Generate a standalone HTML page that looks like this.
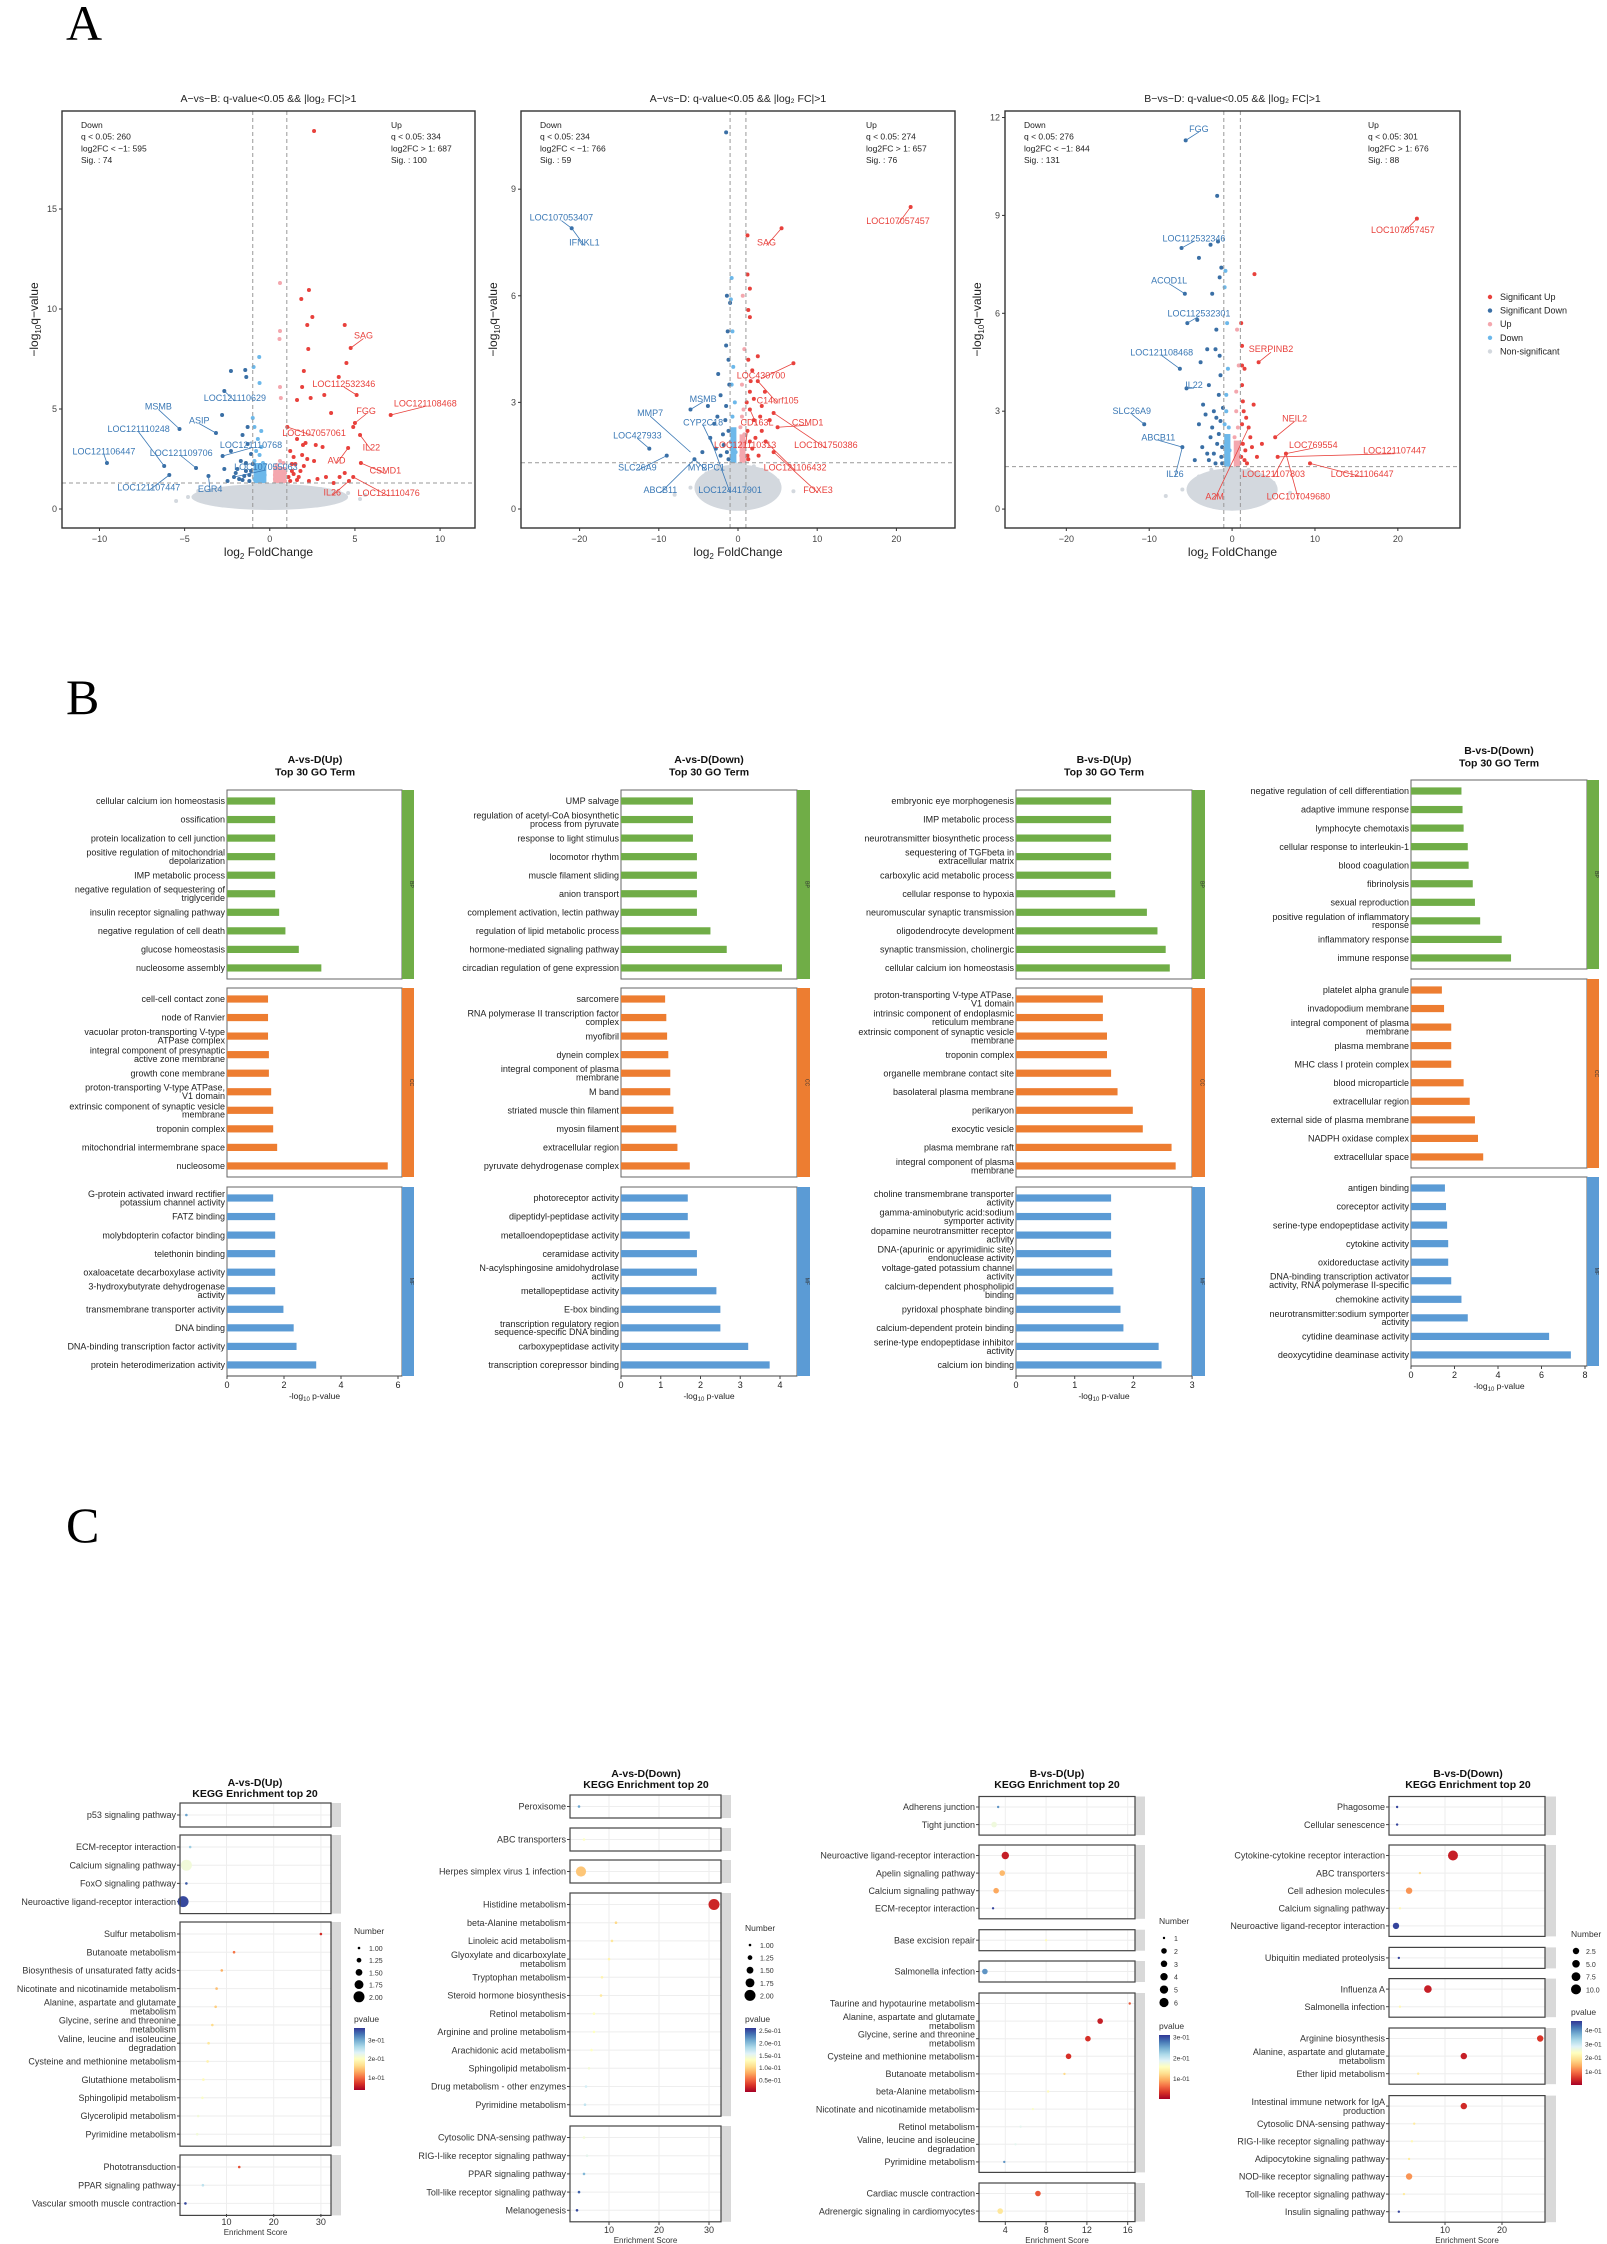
<!DOCTYPE html>
<html><head><meta charset="utf-8"><title>Figure</title>
<style>
html,body{margin:0;padding:0;background:#fff;}
body{width:1607px;height:2244px;position:relative;overflow:hidden;font-family:"Liberation Sans",sans-serif;}
.plab{position:absolute;font-family:"Liberation Serif",serif;font-size:50px;line-height:1;color:#000;}
svg{position:absolute;left:0;top:0;}
svg text{font-family:"Liberation Sans",sans-serif;}
</style></head>
<body>
<div class="plab" style="left:66px;top:-2px;">A</div>
<div class="plab" style="left:66px;top:672px;">B</div>
<div class="plab" style="left:66px;top:1500px;">C</div>
<svg id="fig" width="1607" height="2244" viewBox="0 0 1607 2244"></svg>
<script>
// ======== VOLCANO DATA ========
const v1SigUp=[[2.6,18.9],[2.3,10.95],[1.85,10.5],[2.5,9.6],[2.2,9.2],[4.4,9.2],[4.75,8.05],[2.26,8.0],[4.5,7.3],[2.0,6.9],[4.05,6.6],[1.9,6.1],[5.1,5.7],[3.2,5.7],[2.4,5.55],[1.6,5.45],[3.6,4.8],[7.1,4.7],[5.0,4.3],[4.9,4.1],[5.3,3.7],[4.6,3.05],[1.95,3.2],[2.7,3.2],[5.35,2.3],[4.4,1.8],[4.9,1.6],[4.65,1.4],[4.1,1.6],[3.3,1.6],[3.75,1.3],[2.2,2.5],[2.6,2.4],[1.8,1.9],[1.4,1.75],[1.2,2.9],[1.6,3.5],[2.1,3.3],[1.03,4.1],[1.3,2.25],[2.0,2.15],[3.1,3.1],[1.7,1.6],[2.3,1.4],[1.2,1.4],[1.5,2.25],[1.1,1.6],[1.3,1.9],[1.6,1.45],[2.8,1.5],[1.4,2.6],[1.9,2.7]];
const v1SigDown=[[-2.28,6.9],[-1.44,6.95],[-1.38,6.6],[-2.67,5.9],[-2.8,4.7],[-5.3,4.0],[-3.16,3.8],[-2.28,2.9],[-2.77,2.65],[-9.56,2.3],[-6.2,2.15],[-4.33,2.05],[-5.9,1.7],[-3.6,1.65],[-2.67,2.0],[-2.48,1.4],[-2.1,1.6],[-1.6,3.7],[-1.3,4.1],[-1.7,2.4],[-1.4,1.9],[-1.9,2.0],[-1.2,1.4],[-1.1,2.75],[-1.3,3.25],[-1.5,1.65],[-1.0,2.25],[-1.2,1.7],[-1.6,1.45],[-1.8,1.5],[-1.1,1.9],[-2.0,1.8],[-1.4,2.3]];
const v1LightUp=[[0.6,11.3],[0.6,8.9],[0.57,8.5],[0.6,6.1],[0.65,5.55],[0.4,1.4],[0.6,1.5],[0.8,1.6],[0.3,1.7],[0.5,1.9],[0.7,2.0],[0.9,1.8],[0.4,2.2],[0.6,2.4],[0.8,2.3],[0.5,1.45],[0.9,1.4],[0.3,1.5]];
const v1LightDown=[[-0.62,7.6],[-0.95,7.1],[-0.6,6.3],[-1.0,4.55],[-0.9,4.1],[-0.5,3.9],[-0.7,3.5],[-0.5,3.1],[-0.4,1.4],[-0.6,1.5],[-0.8,1.6],[-0.3,1.7],[-0.5,1.9],[-0.7,2.1],[-0.9,2.4],[-0.4,2.3],[-0.6,2.7],[-0.8,2.9],[-0.5,1.45],[-0.9,1.5]];
const v1Gray=[[-4.8,0.6],[-4.2,0.9],[-3.5,0.5],[-3.0,1.0],[-2.2,0.4],[3.0,1.0],[3.8,0.6],[4.6,0.8],[5.3,0.5],[2.5,0.3],[-5.5,0.4],[5.6,0.7]];
const v1Labels=[["SAG",5.5,8.67,4.75,8.05,1],["LOC112532346",4.35,6.25,5.1,5.7,1],["LOC121108468",9.13,5.28,7.1,4.7,1],["FGG",5.66,4.9,5.0,4.3,1],["LOC107057061",2.6,3.8,1.03,4.1,1],["IL22",5.97,3.08,5.3,3.7,1],["AVD",3.92,2.42,4.6,3.05,1],["CSMD1",6.79,1.92,5.35,2.3,1],["IL26",3.67,0.83,4.65,1.4,1],["LOC121110476",6.98,0.8,4.9,1.6,1],
["LOC121110629",-2.05,5.55,-2.67,5.9,0],["MSMB",-6.54,5.13,-5.3,4.0,0],["ASIP",-4.14,4.42,-3.16,3.8,0],["LOC121110248",-7.7,4.0,-6.2,2.15,0],["LOC121110768",-1.1,3.2,-2.77,2.65,0],["LOC121106447",-9.74,2.88,-9.56,2.3,0],["LOC121109706",-5.2,2.8,-4.33,2.05,0],["LOC107055063",-0.23,2.1,-2.1,1.6,0],["LOC121107447",-7.1,1.08,-5.9,1.7,0],["EGR4",-3.5,1.0,-3.6,1.65,0]];

const v2SigUp=[[21.8,8.5],[5.5,7.9],[1.2,7.7],[1.2,6.6],[1.5,6.2],[1.3,5.6],[1.5,5.4],[7.0,4.1],[2.5,4.3],[1.3,4.2],[1.8,3.9],[2.5,3.6],[1.5,3.3],[2.0,3.1],[3.0,2.9],[1.5,2.8],[2.8,2.6],[4.0,2.5],[5.0,2.3],[1.2,2.2],[2.2,2.0],[3.5,1.9],[1.8,1.7],[2.6,1.5],[1.3,1.4],[4.5,1.6],[3.0,2.2],[1.5,1.9],[1.2,1.5],[2.0,2.5],[1.6,3.6],[3.4,3.3],[4.5,2.7],[1.1,3.0]];
const v2SigDown=[[-1.5,10.6],[-21.0,7.9],[-1.4,6.0],[-1.0,5.8],[-1.3,5.0],[-1.5,4.6],[-1.2,4.2],[-2.5,3.8],[-6.0,2.8],[-2.2,3.2],[-1.5,2.9],[-3.0,2.4],[-11.2,1.7],[-3.5,2.0],[-1.8,1.8],[-9.0,1.5],[-4.5,1.6],[-2.2,1.5],[-1.2,2.2],[-5.5,1.4],[-2.8,1.7],[-1.6,2.5],[-1.2,1.4],[-1.9,2.1],[-3.8,2.9],[-1.1,3.5],[-2.6,2.6],[-1.4,1.6]];
const v2LightUp=[[0.6,6.0],[0.8,4.5],[0.5,3.5],[0.7,2.8],[0.4,1.5],[0.6,1.8],[0.8,2.1],[0.3,2.3],[0.9,1.4],[0.5,2.6]];
const v2LightDown=[[-0.8,6.5],[-0.9,5.9],[-0.7,5.0],[-0.6,4.0],[-0.8,3.5],[-0.4,3.0],[-0.7,2.6],[-0.5,2.2],[-0.9,1.9],[-0.3,1.6],[-0.6,1.4],[-0.8,1.7],[-0.5,1.8]];
const v2Gray=[[-6,0.6],[-4,1.0],[-8,0.4],[5,0.8],[7,0.5],[3,1.1],[-2.5,1.2],[2,1.2]];
const v2Labels=[["LOC107053407",-22.3,8.2,-21.0,7.9,0],["IFNKL1",-19.4,7.5,-21.0,7.9,0],["LOC107057457",20.2,8.1,21.8,8.5,1],["SAG",3.6,7.5,5.5,7.9,1],["LOC430700",2.9,3.75,7.0,4.1,1],["C14orf105",5.0,3.06,2.5,3.6,1],["MSMB",-4.4,3.1,-6.0,2.8,0],["MMP7",-11.1,2.7,-6.0,1.6,0],["CYP2C18",-4.4,2.44,-3.0,1.7,0],["CD163L",2.4,2.44,1.5,2.8,1],["CSMD1",8.8,2.44,5.0,2.3,1],["LOC427933",-12.7,2.07,-11.2,1.7,0],["LOC121110313",0.9,1.8,1.2,2.2,1],["LOC101750386",11.1,1.8,4.5,2.7,1],["SLC26A9",-12.7,1.17,-9.0,1.5,0],["MYBPC1",-4.0,1.17,-5.5,1.4,0],["LOC121106432",7.2,1.17,3.5,1.9,1],["ABCB11",-9.8,0.54,-5.5,1.4,0],["LOC124417901",-1.0,0.54,-3.5,2.0,0],["FOXE3",10.1,0.54,4.5,1.6,1]];

const v3SigUp=[[22.3,8.9],[2.7,7.2],[1.1,5.7],[1.2,5.0],[3.2,4.5],[1.5,4.3],[1.2,3.8],[1.3,3.3],[5.2,2.2],[1.7,2.8],[2.0,2.5],[6.5,1.7],[5.5,1.6],[9.4,1.4],[1.3,2.0],[2.4,1.9],[1.5,1.5],[3.0,1.6],[1.8,1.4],[1.2,2.6],[2.2,2.2],[1.4,3.0],[2.6,3.2],[1.1,1.6],[1.6,1.8],[3.6,2.0],[1.2,4.4]];
const v3SigDown=[[-5.6,11.3],[-1.8,9.6],[-6.1,8.0],[-2.6,8.1],[-1.7,8.2],[-4.0,7.7],[-1.3,7.4],[-1.5,7.1],[-5.7,6.6],[-2.4,6.6],[-5.4,5.7],[-4.2,5.8],[-1.9,5.5],[-3.0,4.9],[-2.0,4.9],[-1.5,4.7],[-6.3,4.3],[-3.8,4.5],[-5.5,3.7],[-2.8,3.8],[-3.5,3.2],[-10.6,2.6],[-2.2,3.0],[-1.6,3.5],[-4.0,2.6],[-6.0,1.9],[-2.6,2.2],[-3.0,1.7],[-1.8,2.0],[-1.3,1.6],[-4.5,1.5],[-2.0,1.4],[-1.4,2.7],[-2.4,2.5],[-3.2,2.9],[-1.2,1.9],[-1.6,2.3],[-2.2,1.7],[-1.1,3.1],[-1.4,4.1],[-3.6,1.9],[-2.8,1.5],[-1.9,2.8],[-1.2,1.4]];
const v3LightUp=[[0.6,5.5],[0.8,4.4],[0.5,3.0],[0.7,2.5],[0.4,1.5],[0.6,1.8],[0.8,2.0],[0.3,2.2],[0.9,1.4],[0.5,3.6],[0.7,1.6]];
const v3LightDown=[[-0.8,7.3],[-0.9,6.8],[-0.6,5.7],[-0.5,4.3],[-0.7,3.5],[-0.4,2.5],[-0.8,2.0],[-0.6,1.6],[-0.9,1.4],[-0.3,1.8],[-0.7,3.0],[-0.5,2.2],[-0.9,2.6]];
const v3Gray=[[-6,0.6],[-4,1.0],[-8,0.4],[5,0.8],[7,0.5],[3,1.1],[-2.5,1.2],[2,1.2]];
const v3Labels=[["FGG",-4.0,11.65,-5.6,11.3,0],["LOC112532346",-4.6,8.3,-6.1,8.0,0],["ACOD1L",-7.6,7.0,-5.7,6.6,0],["LOC112532301",-4.0,6.0,-5.4,5.7,0],["LOC121108468",-8.5,4.8,-6.3,4.3,0],["IL22",-4.6,3.8,-5.5,3.7,0],["SLC26A9",-12.1,3.0,-10.6,2.6,0],["ABCB11",-8.9,2.2,-6.0,1.9,0],["IL26",-6.9,1.08,-6.0,1.9,0],
["LOC107057457",20.6,8.55,22.3,8.9,1],["SERPINB2",4.7,4.9,3.2,4.5,1],["NEIL2",7.55,2.78,5.2,2.2,1],["LOC769554",9.8,1.96,6.5,1.7,1],["LOC121107447",19.6,1.79,5.5,1.6,1],["LOC121106447",15.7,1.08,9.4,1.4,1],["LOC121107803",5.0,1.08,6.5,1.7,1],["A2M",-2.1,0.39,2.0,2.5,1],["LOC107049680",8.0,0.39,6.5,1.7,1]];

// ======== GO DATA ========
const go1BP=["cellular calcium ion homeostasis","ossification","protein localization to cell junction","positive regulation of mitochondrial\ndepolarization","IMP metabolic process","negative regulation of sequestering of\ntriglyceride","insulin receptor signaling pathway","negative regulation of cell death","glucose homeostasis","nucleosome assembly"];
const go1BPv=[1.69,1.69,1.69,1.69,1.69,1.69,1.83,2.05,2.52,3.31];
const go1CC=["cell-cell contact zone","node of Ranvier","vacuolar proton-transporting V-type\nATPase complex","integral component of presynaptic\nactive zone membrane","growth cone membrane","proton-transporting V-type ATPase,\nV1 domain","extrinsic component of synaptic vesicle\nmembrane","troponin complex","mitochondrial intermembrane space","nucleosome"];
const go1CCv=[1.44,1.44,1.44,1.47,1.47,1.55,1.62,1.62,1.76,5.64];
const go1MF=["G-protein activated inward rectifier\npotassium channel activity","FATZ binding","molybdopterin cofactor binding","telethonin binding","oxaloacetate decarboxylase activity","3-hydroxybutyrate dehydrogenase\nactivity","transmembrane transporter activity","DNA binding","DNA-binding transcription factor activity","protein heterodimerization activity"];
const go1MFv=[1.62,1.69,1.69,1.69,1.69,1.69,1.98,2.34,2.44,3.13];
const go2BP=["UMP salvage","regulation of acetyl-CoA biosynthetic\nprocess from pyruvate","response to light stimulus","locomotor rhythm","muscle filament sliding","anion transport","complement activation, lectin pathway","regulation of lipid metabolic process","hormone-mediated signaling pathway","circadian regulation of gene expression"];
const go2BPv=[1.81,1.81,1.81,1.91,1.91,1.91,1.91,2.25,2.66,4.05];
const go2CC=["sarcomere","RNA polymerase II transcription factor\ncomplex","myofibril","dynein complex","integral component of plasma\nmembrane","M band","striated muscle thin filament","myosin filament","extracellular region","pyruvate dehydrogenase complex"];
const go2CCv=[1.11,1.14,1.16,1.19,1.24,1.24,1.32,1.39,1.42,1.73];
const go2MF=["photoreceptor activity","dipeptidyl-peptidase activity","metalloendopeptidase activity","ceramidase activity","N-acylsphingosine amidohydrolase\nactivity","metallopeptidase activity","E-box binding","transcription regulatory region\nsequence-specific DNA binding","carboxypeptidase activity","transcription corepressor binding"];
const go2MFv=[1.68,1.68,1.73,1.91,1.91,2.4,2.5,2.5,3.2,3.74];
const go3BP=["embryonic eye morphogenesis","IMP metabolic process","neurotransmitter biosynthetic process","sequestering of TGFbeta in\nextracellular matrix","carboxylic acid metabolic process","cellular response to hypoxia","neuromuscular synaptic transmission","oligodendrocyte development","synaptic transmission, cholinergic","cellular calcium ion homeostasis"];
const go3BPv=[1.62,1.62,1.62,1.62,1.62,1.69,2.23,2.41,2.55,2.62];
const go3CC=["proton-transporting V-type ATPase,\nV1 domain","intrinsic component of endoplasmic\nreticulum membrane","extrinsic component of synaptic vesicle\nmembrane","troponin complex","organelle membrane contact site","basolateral plasma membrane","perikaryon","exocytic vesicle","plasma membrane raft","integral component of plasma\nmembrane"];
const go3CCv=[1.48,1.48,1.55,1.55,1.62,1.73,1.99,2.16,2.65,2.72];
const go3MF=["choline transmembrane transporter\nactivity","gamma-aminobutyric acid:sodium\nsymporter activity","dopamine neurotransmitter receptor\nactivity","DNA-(apurinic or apyrimidinic site)\nendonuclease activity","voltage-gated potassium channel\nactivity","calcium-dependent phospholipid\nbinding","pyridoxal phosphate binding","calcium-dependent protein binding","serine-type endopeptidase inhibitor\nactivity","calcium ion binding"];
const go3MFv=[1.62,1.62,1.62,1.62,1.64,1.66,1.78,1.83,2.43,2.48];
const go4BP=["negative regulation of cell differentiation","adaptive immune response","lymphocyte chemotaxis","cellular response to interleukin-1","blood coagulation","fibrinolysis","sexual reproduction","positive regulation of inflammatory\nresponse","inflammatory response","immune response"];
const go4BPv=[2.32,2.37,2.42,2.61,2.65,2.84,2.94,3.18,4.17,4.6];
const go4CC=["platelet alpha granule","invadopodium membrane","integral component of plasma\nmembrane","plasma membrane","MHC class I protein complex","blood microparticle","extracellular region","external side of plasma membrane","NADPH oxidase complex","extracellular space"];
const go4CCv=[1.42,1.52,1.85,1.85,1.85,2.42,2.7,2.94,3.08,3.32];
const go4MF=["antigen binding","coreceptor activity","serine-type endopeptidase activity","cytokine activity","oxidoreductase activity","DNA-binding transcription activator\nactivity, RNA polymerase II-specific","chemokine activity","neurotransmitter:sodium symporter\nactivity","cytidine deaminase activity","deoxycytidine deaminase activity"];
const go4MFv=[1.56,1.61,1.66,1.71,1.71,1.85,2.32,2.61,6.35,7.35];
const go1Ticks=[0,2,4,6], go2Ticks=[0,1,2,3,4], go3Ticks=[0,1,2,3], go4Ticks=[0,2,4,6,8];

// ======== KEGG DATA ========
const k1Labels=["p53 signaling pathway","ECM-receptor interaction","Calcium signaling pathway","FoxO signaling pathway","Neuroactive ligand-receptor interaction","Sulfur metabolism","Butanoate metabolism","Biosynthesis of unsaturated fatty acids","Nicotinate and nicotinamide metabolism","Alanine, aspartate and glutamate\nmetabolism","Glycine, serine and threonine\nmetabolism","Valine, leucine and isoleucine\ndegradation","Cysteine and methionine metabolism","Glutathione metabolism","Sphingolipid metabolism","Glycerolipid metabolism","Pyrimidine metabolism","Phototransduction","PPAR signaling pathway","Vascular smooth muscle contraction"];
const k1Groups=[1,4,12,3];
const k1Enrich=[1.5,2.3,1.5,1.5,0.8,30,11.6,9.0,7.9,7.7,7.0,6.2,6.0,5.1,4.9,4.0,3.8,12.7,5,1.3];
const k1Number=[1,1,2,1,2,1,1,1,1,1,1,1,1,1,1,1,1,1,1,1];
const k1P=[0.3,0.27,0.21,0.34,0.35,0.06,0.1,0.13,0.14,0.15,0.16,0.17,0.18,0.19,0.2,0.21,0.21,0.08,0.25,0.35];
const k1Ticks=[10,20,30], k1NumLeg=[1.00,1.25,1.50,1.75,2.00], k1PLeg=[0.3,0.2,0.1];
const k2Labels=["Peroxisome","ABC transporters","Herpes simplex virus 1 infection","Histidine metabolism","beta-Alanine metabolism","Linoleic acid metabolism","Glyoxylate and dicarboxylate\nmetabolism","Tryptophan metabolism","Steroid hormone biosynthesis","Retinol metabolism","Arginine and proline metabolism","Arachidonic acid metabolism","Sphingolipid metabolism","Drug metabolism - other enzymes","Pyrimidine metabolism","Cytosolic DNA-sensing pathway","RIG-I-like receptor signaling pathway","PPAR signaling pathway","Toll-like receptor signaling pathway","Melanogenesis"];
const k2Groups=[1,1,1,12,5];
const k2Enrich=[4,5,4.4,31,11.4,10.6,10,8.6,8.4,7,7,6.5,6,5.4,5.2,5,5.6,5,4,3.6];
const k2Number=[1,1,1.9,2,1,1,1,1,1,1,1,1,1,1,1,1,1,1,1,1];
const k2P=[0.21,0.13,0.09,0.02,0.1,0.11,0.12,0.12,0.11,0.13,0.13,0.13,0.14,0.16,0.17,0.14,0.15,0.2,0.24,0.25];
const k2Ticks=[10,20,30], k2NumLeg=[1.00,1.25,1.50,1.75,2.00], k2PLeg=[0.25,0.20,0.15,0.10,0.05];
const k3Labels=["Adherens junction","Tight junction","Neuroactive ligand-receptor interaction","Apelin signaling pathway","Calcium signaling pathway","ECM-receptor interaction","Base excision repair","Salmonella infection","Taurine and hypotaurine metabolism","Alanine, aspartate and glutamate\nmetabolism","Glycine, serine and threonine\nmetabolism","Cysteine and methionine metabolism","Butanoate metabolism","beta-Alanine metabolism","Nicotinate and nicotinamide metabolism","Retinol metabolism","Valine, leucine and isoleucine\ndegradation","Pyrimidine metabolism","Cardiac muscle contraction","Adrenergic signaling in cardiomyocytes"];
const k3Groups=[2,4,1,1,10,2];
const k3Enrich=[3.3,2.9,4,3.7,3.1,2.8,8,2,16.2,13.3,12.1,10.2,9.8,8.2,6.7,5.5,5,3.9,7.2,3.5];
const k3Number=[1,2,4,2,2,1,1,2,1,2,2,2,1,1,1,1,1,1,2,2];
const k3P=[0.26,0.17,0.02,0.1,0.09,0.3,0.15,0.26,0.05,0.02,0.03,0.03,0.12,0.15,0.16,0.18,0.18,0.26,0.05,0.13];
const k3Ticks=[4,8,12,16], k3NumLeg=[1,2,3,4,5,6], k3PLeg=[0.3,0.2,0.1];
const k4Labels=["Phagosome","Cellular senescence","Cytokine-cytokine receptor interaction","ABC transporters","Cell adhesion molecules","Calcium signaling pathway","Neuroactive ligand-receptor interaction","Ubiquitin mediated proteolysis","Influenza A","Salmonella infection","Arginine biosynthesis","Alanine, aspartate and glutamate\nmetabolism","Ether lipid metabolism","Intestinal immune network for IgA\nproduction","Cytosolic DNA-sensing pathway","RIG-I-like receptor signaling pathway","Adipocytokine signaling pathway","NOD-like receptor signaling pathway","Toll-like receptor signaling pathway","Insulin signaling pathway"];
const k4Groups=[2,5,1,2,3,7];
const k4Enrich=[1.6,1.6,11.4,5.6,3.7,2.1,1.4,1.9,7,2.1,26.7,13.3,5.3,13.3,4.6,4.2,3.7,3.7,2.8,1.9];
const k4Number=[1,1,10,1,2.5,1,2.5,1,5,1,2.5,2.5,1,2.5,1,1,1,2.5,1,1];
const k4P=[0.45,0.45,0.03,0.18,0.12,0.22,0.45,0.45,0.03,0.22,0.05,0.03,0.2,0.04,0.2,0.22,0.2,0.12,0.2,0.45];
const k4Ticks=[10,20], k4NumLeg=[2.5,5.0,7.5,10.0], k4PLeg=[0.4,0.3,0.2,0.1];

// ======== HELPERS ========
const NS='http://www.w3.org/2000/svg';
const svg=document.getElementById('fig');
function mk(tag,attrs,parent){const e=document.createElementNS(NS,tag);for(const k in attrs)e.setAttribute(k,attrs[k]);(parent||svg).appendChild(e);return e;}
function tx(s,attrs,parent){const e=mk('text',attrs,parent);e.textContent=s;return e;}
function multi(s,x,y,size,anchor,lh,parent,fill){
  const lines=s.split('\n');const t=mk('text',{x:x,'font-size':size,'text-anchor':anchor,fill:fill||'#222'},parent);
  const y0=y-(lines.length-1)*lh/2+size*0.35;
  lines.forEach((l,i)=>{const ts=mk('tspan',{x:x,y:y0+i*lh},t);ts.textContent=l;});
  return t;
}
const PAL=['#a50026','#d73027','#f46d43','#fdae61','#fee090','#ffffbf','#e0f3f8','#abd9e9','#74add1','#4575b4','#313695'];
function hex(h){return[parseInt(h.slice(1,3),16),parseInt(h.slice(3,5),16),parseInt(h.slice(5,7),16)];}
function cmap(t){t=Math.max(0,Math.min(1,t));const f=t*(PAL.length-1);const i=Math.min(Math.floor(f),PAL.length-2);const r=f-i;const a=hex(PAL[i]),b=hex(PAL[i+1]);return 'rgb('+a.map((v,k)=>Math.round(v+(b[k]-v)*r)).join(',')+')';}

// ======== VOLCANO ========
const COL={su:'#e8413c',sd:'#3a6fa5',lu:'#f4a7ae',ld:'#6cb8ea',ns:'#d3d8de'};
function volcano(c){
  const g=mk('g',{});
  
  
  const sx=v=>c.x0+(v-c.xmin)/(c.xmax-c.xmin)*(c.x1-c.x0);
  const sy=v=>c.y1-(v-c.ymin)/(c.ymax-c.ymin)*(c.y1-c.y0);
  const title=tx(c.title,{x:(c.x0+c.x1)/2,y:102,'font-size':10.5,'text-anchor':'middle',fill:'#222'},g);
  
  
  const cloud=mk('ellipse',{cx:sx(0),cy:sy(0.6),rx:Math.abs(sx(c.cloud)-sx(0)),ry:Math.abs(sy(0.65)-sy(0)),fill:COL.ns},g);
  
  
  const spike=mk('path',{d:`M${sx(-0.9)} ${sy(1.3)} L${sx(0.9)} ${sy(1.3)} L${sx(1.2)} ${sy(0.2)} L${sx(-1.2)} ${sy(0.2)} Z`,fill:COL.ns},g);
  
  
  const bandU=mk('rect',{x:sx(0.2),y:sy(2.1),width:sx(0.95)-sx(0.2),height:sy(1.3)-sy(2.1),fill:COL.lu},g);
  
  
  const bandD=mk('rect',{x:sx(-0.95),y:sy(2.3),width:sx(-0.2)-sx(-0.95),height:sy(1.3)-sy(2.3),fill:COL.ld},g);
  
  
  const series=[[c.gray,COL.ns,'non-significant-point'],[c.lu,COL.lu,'up-point'],[c.ld,COL.ld,'down-point'],[c.su,COL.su,'significant-up-point'],[c.sd,COL.sd,'significant-down-point']];
  series.forEach(s=>{s[0].forEach(p=>{
    const d=mk('circle',{cx:sx(p[0]),cy:sy(p[1]),r:2,fill:s[1]},g);
    
    
  });});
  [[-1],[1]].forEach(v=>{const l=mk('line',{x1:sx(v[0]),x2:sx(v[0]),y1:c.y0,y2:c.y1,stroke:'#999','stroke-dasharray':'4 3','stroke-width':1},g);
    
    });
  const hl=mk('line',{x1:c.x0,x2:c.x1,y1:sy(1.3),y2:sy(1.3),stroke:'#999','stroke-dasharray':'4 3','stroke-width':1},g);
  
  
  c.labels.forEach(L=>{
    const col=L[5]?'#e8413c':'#3a78b5';
    const ln=mk('line',{x1:sx(L[1]),y1:sy(L[2])+3,x2:sx(L[3]),y2:sy(L[4]),stroke:col,'stroke-width':0.8},g);
    
    
    const t=tx(L[0],{x:sx(L[1]),y:sy(L[2])+3,'font-size':9,'text-anchor':'middle',fill:col},g);
    
    
  });
  const fr=mk('rect',{x:c.x0,y:c.y0,width:c.x1-c.x0,height:c.y1-c.y0,fill:'none',stroke:'#333','stroke-width':1.4},g);
  
  
  ['Down','q < 0.05: '+c.cnt[0],'log2FC < −1: '+c.cnt[1],'Sig. : '+c.cnt[2]].forEach((s,i)=>{
    const t=tx(s,{x:c.x0+19,y:128+i*11.7,'font-size':8.5,fill:'#222'},g);
    
    });
  ['Up','q < 0.05: '+c.cnt[3],'log2FC > 1: '+c.cnt[4],'Sig. : '+c.cnt[5]].forEach((s,i)=>{
    const t=tx(s,{x:c.upx,y:128+i*11.7,'font-size':8.5,fill:'#222'},g);
    
    });
  c.xt.forEach(v=>{mk('line',{x1:sx(v),x2:sx(v),y1:c.y1,y2:c.y1+3,stroke:'#333'},g);
    const t=tx(String(v).replace('-','−'),{x:sx(v),y:c.y1+14,'font-size':9,'text-anchor':'middle',fill:'#444'},g);
    
    });
  c.yt.forEach(v=>{mk('line',{x1:c.x0-3,x2:c.x0,y1:sy(v),y2:sy(v),stroke:'#333'},g);
    const t=tx(String(v),{x:c.x0-5,y:sy(v)+3,'font-size':9,'text-anchor':'end',fill:'#444'},g);
    
    });
  const xl=mk('text',{x:(c.x0+c.x1)/2,y:c.y1+28,'font-size':12,'text-anchor':'middle',fill:'#222'},g);
  xl.innerHTML='log<tspan font-size="8" dy="3">2</tspan><tspan dy="-3"> FoldChange</tspan>';
  
  
  const yl=mk('text',{x:0,y:0,'font-size':12,'text-anchor':'middle',fill:'#222',transform:`translate(${c.x0-24},${(c.y0+c.y1)/2}) rotate(-90)`},g);
  yl.innerHTML='−log<tspan font-size="8" dy="3">10</tspan><tspan dy="-3">q−value</tspan>';
  
  
}
volcano({name:'volcano-a-vs-b',title:'A−vs−B: q-value<0.05 && |log₂ FC|>1',x0:62,x1:475,y0:111,y1:528,xmin:-12.2,xmax:12.05,ymin:-0.95,ymax:19.9,xt:[-10,-5,0,5,10],yt:[0,5,10,15],su:v1SigUp,sd:v1SigDown,lu:v1LightUp,ld:v1LightDown,gray:v1Gray,labels:v1Labels,cnt:[260,595,74,334,687,100],upx:391,cloud:4.6});
volcano({name:'volcano-a-vs-d',title:'A−vs−D: q-value<0.05 && |log₂ FC|>1',x0:521,x1:955,y0:111,y1:528,xmin:-27.4,xmax:27.4,ymin:-0.535,ymax:11.2,xt:[-20,-10,0,10,20],yt:[0,3,6,9],su:v2SigUp,sd:v2SigDown,lu:v2LightUp,ld:v2LightDown,gray:v2Gray,labels:v2Labels,cnt:[234,766,59,274,657,76],upx:866,cloud:5.5});
volcano({name:'volcano-b-vs-d',title:'B−vs−D: q-value<0.05 && |log₂ FC|>1',x0:1005,x1:1460,y0:111,y1:528,xmin:-27.4,xmax:27.5,ymin:-0.58,ymax:12.2,xt:[-20,-10,0,10,20],yt:[0,3,6,9,12],su:v3SigUp,sd:v3SigDown,lu:v3LightUp,ld:v3LightDown,gray:v3Gray,labels:v3Labels,cnt:[276,844,131,301,676,88],upx:1368,cloud:5.5});
const legItems=[['Significant Up',COL.su],['Significant Down',COL.sd],['Up',COL.lu],['Down',COL.ld],['Non-significant',COL.ns]];
legItems.forEach((it,i)=>{
  const d=mk('circle',{cx:1490,cy:297+i*13.6,r:2.2,fill:it[1]});
  
  
  const t=tx(it[0],{x:1500,y:300+i*13.6,'font-size':9,fill:'#222'});
  
  
});

// ======== GO BAR CHARTS ========
const GOC={BP:'#70ad47',CC:'#ed7d31',MF:'#5b9bd5'};
function goChart(c){
  const g=mk('g',{});
  
  
  const sx=v=>c.x0+v*c.ppu;
  c.title.forEach((s,i)=>{const t=tx(s,{x:c.tx,y:c.ty+i*12.5,'font-size':10.5,'font-weight':'bold','text-anchor':'middle',fill:'#111'},g);
    
    });
  c.groups.forEach((gr,gi)=>{
    const top=c.tops[gi],bot=top+189;
    const box=mk('rect',{x:c.x0,y:top,width:c.boxR-c.x0,height:bot-top,fill:'#fff',stroke:'#666','stroke-width':1},g);
    
    
    const st=mk('rect',{x:c.boxR,y:top,width:c.stripR-c.boxR,height:bot-top,fill:GOC[gr.tag]},g);
    
    
    const stt=tx(gr.tag,{x:0,y:0,'font-size':5,'text-anchor':'middle',fill:'#333',transform:`translate(${(c.boxR+c.stripR)/2+2},${(top+bot)/2}) rotate(90)`},g);
    
    
    gr.labels.forEach((lab,i)=>{
      const y=top+11+i*18.55;
      const b=mk('rect',{x:c.x0,y:y-3.6,width:sx(gr.vals[i])-c.x0,height:7.2,fill:GOC[gr.tag]},g);
      
      
      const t=multi(lab,c.x0-2,y,9,'end',8.4,g);
      
      
    });
  });
  const axY=c.tops[2]+189;
  mk('line',{x1:c.x0,x2:c.boxR,y1:axY,y2:axY,stroke:'#444'},g);
  c.ticks.forEach(v=>{mk('line',{x1:sx(v),x2:sx(v),y1:axY,y2:axY+3,stroke:'#444'},g);
    const t=tx(String(v),{x:sx(v),y:axY+12,'font-size':9,'text-anchor':'middle',fill:'#222'},g);
    
    });
  const xl=mk('text',{x:(c.x0+c.boxR)/2,y:axY+23,'font-size':8.5,'text-anchor':'middle',fill:'#222'},g);
  xl.innerHTML='-log<tspan font-size="6" dy="2">10</tspan><tspan dy="-2"> p-value</tspan>';
  
  
}
goChart({name:'go-chart-a-vs-d-up',x0:227,ppu:28.5,boxR:402,stripR:414,tops:[790,988,1187],tx:315,ty:763,title:['A-vs-D(Up)','Top 30 GO Term'],ticks:go1Ticks,
  groups:[{tag:'BP',labels:go1BP,vals:go1BPv},{tag:'CC',labels:go1CC,vals:go1CCv},{tag:'MF',labels:go1MF,vals:go1MFv}]});
goChart({name:'go-chart-a-vs-d-down',x0:621,ppu:39.75,boxR:797,stripR:810,tops:[790,988,1187],tx:709,ty:763,title:['A-vs-D(Down)','Top 30 GO Term'],ticks:go2Ticks,
  groups:[{tag:'BP',labels:go2BP,vals:go2BPv},{tag:'CC',labels:go2CC,vals:go2CCv},{tag:'MF',labels:go2MF,vals:go2MFv}]});
goChart({name:'go-chart-b-vs-d-up',x0:1016,ppu:58.7,boxR:1192,stripR:1205,tops:[790,988,1187],tx:1104,ty:763,title:['B-vs-D(Up)','Top 30 GO Term'],ticks:go3Ticks,
  groups:[{tag:'BP',labels:go3BP,vals:go3BPv},{tag:'CC',labels:go3CC,vals:go3CCv},{tag:'MF',labels:go3MF,vals:go3MFv}]});
goChart({name:'go-chart-b-vs-d-down',x0:1411,ppu:21.75,boxR:1587,stripR:1599,tops:[780,979,1177],tx:1499,ty:754,title:['B-vs-D(Down)','Top 30 GO Term'],ticks:go4Ticks,
  groups:[{tag:'BP',labels:go4BP,vals:go4BPv},{tag:'CC',labels:go4CC,vals:go4CCv},{tag:'MF',labels:go4MF,vals:go4MFv}]});

// ======== KEGG DOT CHARTS ========
let gradId=0;
function kegg(c){
  const g=mk('g',{});
  
  
  const sx=v=>c.x0+v*c.ppu;
  const pc=p=>cmap((p-c.pmin)/(c.pmax-c.pmin));
  c.title.forEach((s,i)=>{const t=tx(s,{x:c.tx,y:c.ty+i*11,'font-size':10.5,'font-weight':'bold','text-anchor':'middle',fill:'#111'},g);
    
    });
  let idx=0;
  c.groups.forEach((n,gi)=>{
    const top=c.tops[gi];const bot=top+c.off*2+(n-1)*c.gap;
    const bg=mk('rect',{x:c.left,y:top,width:c.right-c.left,height:bot-top,fill:'#fff'},g);
    
    
    c.ticks.forEach(v=>{mk('line',{x1:sx(v),x2:sx(v),y1:top,y2:bot,stroke:'#eee','stroke-width':1},g);});
    const st=mk('rect',{x:c.right,y:top,width:c.stripW,height:bot-top,fill:'#d9d9d9'},g);
    
    
    for(let i=0;i<n;i++){
      const k=idx+i;const y=top+c.off+i*c.gap;
      mk('line',{x1:c.left,x2:c.right,y1:y,y2:y,stroke:'#eee','stroke-width':1},g);
      mk('line',{x1:c.left-3,x2:c.left,y1:y,y2:y,stroke:'#444'},g);
      const lab=multi(c.labels[k],c.left-4,y,9,'end',9,g,'#333');
      
      
      const d=mk('circle',{cx:sx(c.enrich[k]),cy:y,r:c.rf(c.number[k]),fill:pc(c.p[k])},g);
      
      
    }
    const fr=mk('rect',{x:c.left,y:top,width:c.right-c.left,height:bot-top,fill:'none',stroke:'#444','stroke-width':1.2},g);
    
    
    idx+=n;
  });
  c.ticks.forEach(v=>{mk('line',{x1:sx(v),x2:sx(v),y1:c.axY-8,y2:c.axY-5,stroke:'#444'},g);
    const t=tx(String(v),{x:sx(v),y:c.axY+3,'font-size':9,'text-anchor':'middle',fill:'#333'},g);
    
    });
  const xl=tx('Enrichment Score',{x:(c.left+c.right)/2,y:c.axY+13,'font-size':8,'text-anchor':'middle',fill:'#333'},g);
  
  
  const nt=tx('Number',{x:c.lx,y:c.ly,'font-size':8.5,fill:'#333'},g);
  
  
  c.numLeg.forEach((v,i)=>{const yy=c.ly+14+i*c.lgap;
    const d=mk('circle',{cx:c.lx+5,cy:yy,r:c.rf(v),fill:'#000'},g);
    
    
    const t=tx(c.numFmt(v),{x:c.lx+15,y:yy+3,'font-size':7,fill:'#333'},g);
    
    });
  const pt=tx('pvalue',{x:c.lx,y:c.py,'font-size':8.5,fill:'#333'},g);
  
  
  const id='cg'+(gradId++);
  const defs=mk('defs',{},g);const lg=mk('linearGradient',{id:id,x1:0,y1:0,x2:0,y2:1},defs);
  for(let i=0;i<=10;i++){mk('stop',{offset:i/10,'stop-color':cmap(1-i/10)},lg);}
  const cb=mk('rect',{x:c.lx,y:c.py+6,width:11,height:c.cbH,fill:`url(#${id})`},g);
  
  
  const cy=p=>c.py+6+(c.pmax-p)/(c.pmax-c.pmin)*c.cbH;
  c.pLeg.forEach(v=>{const t=tx(c.pFmt(v),{x:c.lx+14,y:cy(v)+3,'font-size':6.5,fill:'#333'},g);
    
    });
}
kegg({name:'kegg-chart-a-vs-d-up',title:['A-vs-D(Up)','KEGG Enrichment top 20'],tx:255,ty:1786,left:180,right:331,stripW:10,x0:179.3,ppu:4.72,
  tops:[1803,1835,1922,2155],off:12,gap:18.2,groups:k1Groups,labels:k1Labels,enrich:k1Enrich,number:k1Number,p:k1P,pmin:0.03,pmax:0.36,ticks:k1Ticks,axY:2222,
  rf:n=>1.3+4.2*(n-1),numLeg:k1NumLeg,numFmt:v=>v.toFixed(2),lx:354,ly:1934,lgap:12.2,py:2022,cbH:62,pLeg:k1PLeg,pFmt:v=>(v*10).toFixed(0)+'e-01'});
kegg({name:'kegg-chart-a-vs-d-down',title:['A-vs-D(Down)','KEGG Enrichment top 20'],tx:646,ty:1777,left:570,right:721,stripW:10,x0:559,ppu:5.0,
  tops:[1795,1828,1860,1893,2126],off:11.5,gap:18.2,groups:k2Groups,labels:k2Labels,enrich:k2Enrich,number:k2Number,p:k2P,pmin:0.0,pmax:0.258,ticks:k2Ticks,axY:2230,
  rf:n=>1.3+4.2*(n-1),numLeg:k2NumLeg,numFmt:v=>v.toFixed(2),lx:745,ly:1931,lgap:12.6,py:2022,cbH:64,pLeg:k2PLeg,pFmt:v=>(v*10).toFixed(1)+'e-01'});
kegg({name:'kegg-chart-b-vs-d-up',title:['B-vs-D(Up)','KEGG Enrichment top 20'],tx:1057,ty:1777,left:979,right:1135,stripW:10,x0:964.5,ppu:10.2,
  tops:[1796.5,1845,1929.7,1961,1993,2183],off:10.5,gap:17.6,groups:k3Groups,labels:k3Labels,enrich:k3Enrich,number:k3Number,p:k3P,pmin:0.0,pmax:0.308,ticks:k3Ticks,axY:2230,
  rf:n=>n<1.5?1.2:2.8+0.45*(n-2),numLeg:k3NumLeg,numFmt:v=>String(v),lx:1159,ly:1924,lgap:12.9,py:2029,cbH:64,pLeg:k3PLeg,pFmt:v=>(v*10).toFixed(0)+'e-01'});
kegg({name:'kegg-chart-b-vs-d-down',title:['B-vs-D(Down)','KEGG Enrichment top 20'],tx:1468,ty:1777,left:1389,right:1545,stripW:11,x0:1388,ppu:5.7,
  tops:[1796.5,1845,1947.4,1978.6,2028,2095.6],off:10.5,gap:17.6,groups:k4Groups,labels:k4Labels,enrich:k4Enrich,number:k4Number,p:k4P,pmin:0.0,pmax:0.46,ticks:k4Ticks,axY:2230,
  rf:n=>n<2?1.2:2.6+0.24*n,numLeg:k4NumLeg,numFmt:v=>v.toFixed(1),lx:1571,ly:1937,lgap:12.8,py:2015,cbH:64,pLeg:k4PLeg,pFmt:v=>(v*10).toFixed(0)+'e-01'});
</script>
</body></html>
